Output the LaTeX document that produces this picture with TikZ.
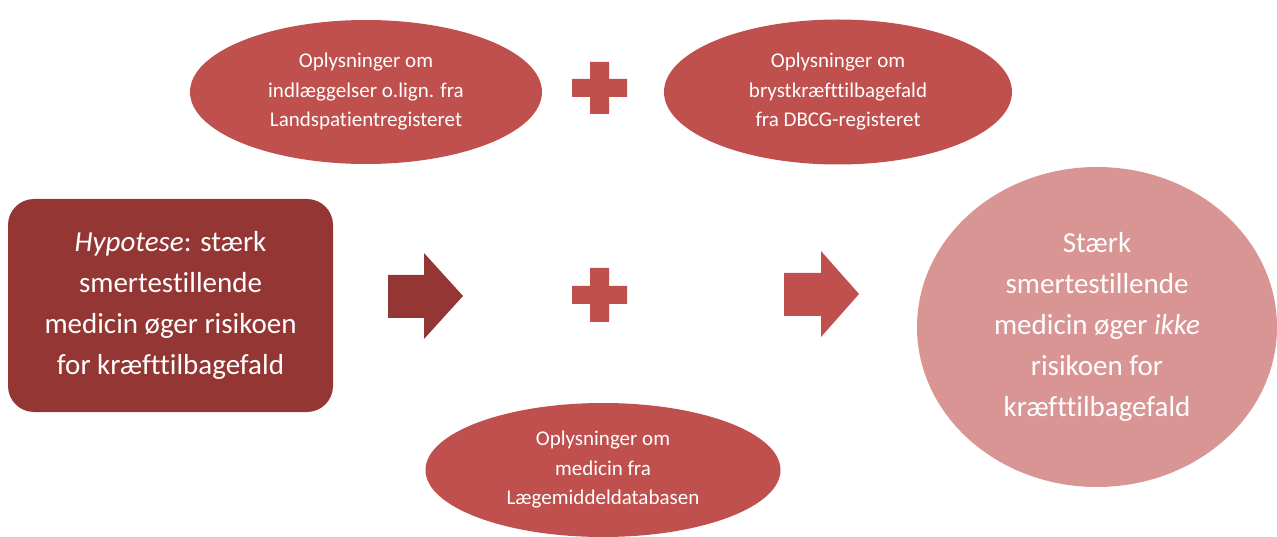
\documentclass[tikz,border=0pt]{standalone}
\usepackage{fontspec}
\setmainfont[Ligatures={NoCommon}]{Carlito}
\usetikzlibrary{shapes.geometric}
\definecolor{darkred}{HTML}{943634}
\definecolor{midred}{HTML}{C0504D}
\definecolor{lightred}{HTML}{D99594}
\tikzset{
  infobox/.style={ellipse, fill=midred, text=white, inner sep=0pt, align=center,
    font=\fontsize{21}{29.5}\selectfont},
  bigtext/.style={text=white, inner sep=0pt, align=center,
    font=\fontsize{29}{41}\selectfont},
  plussign/.style={fill=midred},
}
\begin{document}
\begin{tikzpicture}[x=1pt,y=-1pt]
\useasboundingbox (0,0) rectangle (1277,537);

% hypothesis box
\node[bigtext, fill=darkred, rounded corners=26pt, minimum width=325pt, minimum height=213pt]
  (hyp) at (170.5,305.5) {\textit{Hypotese}: stærk\\smertestillende\\medicin øger risikoen\\for kræfttilbagefald};

% data sources
\node[infobox, minimum width=352pt, minimum height=144pt] (lpr) at (366,92)
  {Oplysninger om\\indlæggelser o.lign. fra\\Landspatientregisteret};
\node[infobox, minimum width=348pt, minimum height=145pt] (dbcg) at (838,92)
  {Oplysninger om\\brystkræfttilbagefald\\fra DBCG-registeret};
\node[infobox, minimum width=355pt, minimum height=134pt] (lmdb) at (603,470)
  {Oplysninger om\\medicin fra\\Lægemiddeldatabasen};

% conclusion
\node[bigtext, ellipse, fill=lightred, minimum width=360pt, minimum height=320pt]
  (res) at (1097,327) {Stærk\\smertestillende\\medicin øger \textit{ikke}\\risikoen for\\kræfttilbagefald};

% plus signs
\fill[plussign] (572,79) rectangle (627,97) (590,62) rectangle (609,114);
\fill[plussign] (572,286) rectangle (627,304) (590,268) rectangle (609,322);

% block arrows
\fill[darkred] (388,275) -- (424,275) -- (424,253) -- (463,296) -- (424,339) -- (424,318) -- (388,318) -- cycle;
\fill[midred] (784,273) -- (821,273) -- (821,251) -- (859,294) -- (821,337) -- (821,316) -- (784,316) -- cycle;
\end{tikzpicture}
\end{document}
